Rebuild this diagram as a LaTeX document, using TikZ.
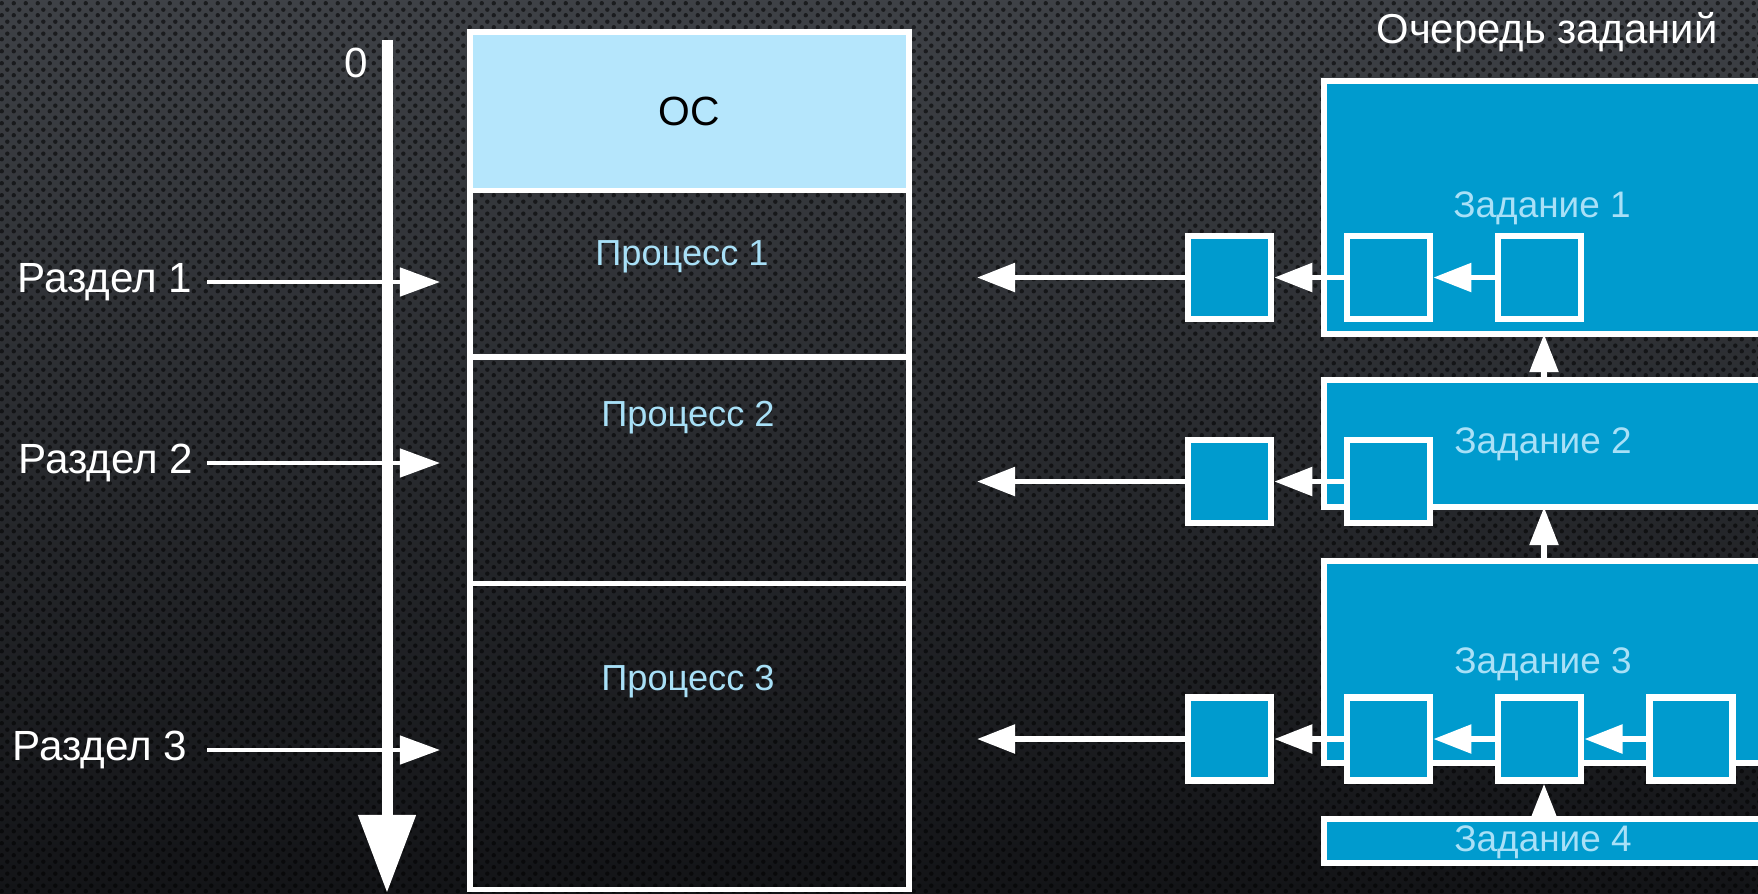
\documentclass[tikz,border=0pt]{standalone}
\usepackage{fontspec}
\setmainfont{Liberation Sans}
\usetikzlibrary{arrows.meta,positioning,patterns.meta}

\definecolor{bgtop}{RGB}{62,65,70}
\definecolor{bgbot}{RGB}{19,20,23}
\definecolor{osblue}{RGB}{181,230,252}
\definecolor{jobblue}{RGB}{0,155,206}
\definecolor{txtblue}{RGB}{168,224,247}

% perforated background
\tikzdeclarepattern{
  name=holes,
  type=uncolored,
  bottom left={(0cm,0cm)},
  top right={(0.12cm,0.12cm)},
  tile size={(0.12cm,0.12cm)},
  code={
    \fill (0.03cm,0.03cm) circle (0.024cm);
    \fill (0.09cm,0.09cm) circle (0.024cm);
  }
}

\begin{document}
\begin{tikzpicture}[
  x=0.01cm, y=-0.01cm,
  lbl/.style={text=white, inner sep=0pt, font=\fontsize{12}{14}\selectfont},
  section/.style={draw=white, line width=0.055cm, minimum width=4.39cm, inner sep=0pt, outer sep=0pt},
  proc/.style={text=txtblue, inner sep=0pt, font=\fontsize{10.3}{12}\selectfont},
  job/.style={draw=white, fill=jobblue, line width=0.06cm, minimum width=5cm, anchor=north west, inner sep=0pt, outer sep=0pt},
  cell/.style={draw=white, fill=jobblue, line width=0.065cm, minimum size=0.83cm, inner sep=0pt},
  part/.style={white, line width=0.045cm, -{Triangle[length=0.4cm, width=0.28cm]}},
  qarrow/.style={white, line width=0.055cm, -{Triangle[length=0.38cm, width=0.28cm]}}
]
\useasboundingbox (0,0) rectangle (1758,893);
\shade[top color=bgtop, bottom color=bgbot] (0,0) rectangle (1758,893);
\fill[pattern={holes}, pattern color=black, fill opacity=0.55] (0,0) rectangle (1758,893);
\clip (0,0) rectangle (1758,893);

% memory
\node[section, fill=osblue, minimum height=1.585cm, anchor=north, font=\fontsize{11.6}{13}\selectfont] (os) at (689.5,32) {ОС};
\node[section, minimum height=1.665cm, below=0pt of os] (p1) {};
\node[section, minimum height=2.26cm, below=0pt of p1] (p2) {};
\node[section, minimum height=3.06cm, below=0pt of p2] (p3) {};
\node[proc] at (682,257) {Процесс 1};
\node[proc] at (688,418) {Процесс 2};
\node[proc] at (688,682) {Процесс 3};

% address axis
\coordinate (ax0) at (387,40);
\coordinate (ax1) at (387,893);
\draw[white, line width=0.11cm, -{Triangle[length=0.78cm, width=0.55cm]}] (ax0) -- (ax1);
\node[lbl, anchor=base] at (356,77) {0};

% partitions
\node[lbl, anchor=east, text height=0.3cm, text depth=0.1cm] (r1) at (193,282) {Раздел 1};
\node[lbl, anchor=east, text height=0.3cm, text depth=0.1cm] (r2) at (194,463) {Раздел 2};
\node[lbl, anchor=east, text height=0.3cm, text depth=0.1cm] (r3) at (188,750) {Раздел 3};
\coordinate (m1) at (440,282);
\coordinate (m2) at (440,463);
\coordinate (m3) at (440,750);
\draw[part, shorten <=0.14cm] (r1) -- (m1);
\draw[part, shorten <=0.13cm] (r2) -- (m2);
\draw[part, shorten <=0.19cm] (r3) -- (m3);

% job queue
\node[lbl, anchor=base, font=\fontsize{11.9}{14}\selectfont] at (1547,43) {Очередь заданий};
\node[job, minimum height=2.53cm] (j1) at (1324,81) {};
\node[job, minimum height=1.27cm] (j2) at (1324,380) {};
\node[job, minimum height=2.02cm] (j3) at (1324,561) {};
\node[job, minimum height=0.44cm] (j4) at (1324,819) {};
\node[proc, font=\fontsize{10.5}{12}\selectfont] at (1542,208) {Задание 1};
\node[proc, font=\fontsize{10.5}{12}\selectfont] at (1543,444) {Задание 2};
\node[proc, font=\fontsize{10.5}{12}\selectfont] at (1543,664) {Задание 3};
\node[proc, font=\fontsize{10.5}{12}\selectfont] at (1543,842) {Задание 4};

\node[cell] (q11) at (1229.5,277.5) {};
\node[cell, right of=q11, node distance=1.59cm] (q12) {};
\node[cell, right of=q12, node distance=1.51cm] (q13) {};

\node[cell] (q21) at (1229.5,481.5) {};
\node[cell, right of=q21, node distance=1.59cm] (q22) {};

\node[cell] (q31) at (1229.5,739) {};
\node[cell, right of=q31, node distance=1.59cm] (q32) {};
\node[cell, right of=q32, node distance=1.51cm] (q33) {};
\node[cell, right of=q33, node distance=1.51cm] (q34) {};

\coordinate (o1) at (977,277.5);
\coordinate (o2) at (977,481.5);
\coordinate (o3) at (977,739);
\coordinate (vx) at (1544,0);

\draw[qarrow] (q11) -- (o1);
\draw[qarrow] (q12) -- (q11);
\draw[qarrow] (q13) -- (q12);
\draw[qarrow] (q21) -- (o2);
\draw[qarrow] (q22) -- (q21);
\draw[qarrow] (q31) -- (o3);
\draw[qarrow] (q32) -- (q31);
\draw[qarrow] (q33) -- (q32);
\draw[qarrow] (q34) -- (q33);

\draw[qarrow] (j2.north -| vx) -- (j1.south -| vx);
\draw[qarrow] (j3.north -| vx) -- (j2.south -| vx);
\draw[qarrow] (j4.north -| vx) -- (q33.south -| vx);
\end{tikzpicture}
\end{document}
